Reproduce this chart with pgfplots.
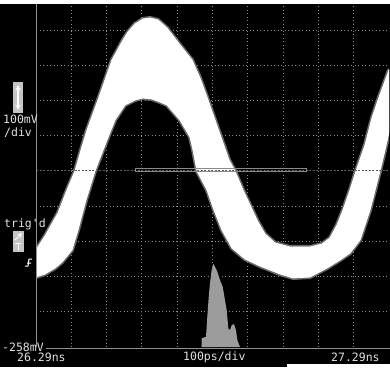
\documentclass[border=0pt]{standalone}
\usepackage{pgfplots}
\usepackage{pgfplotstable}
\pgfplotsset{compat=1.18}
\usepackage{fontspec}
\setmonofont{DejaVu Sans Mono}
\definecolor{gridgray}{HTML}{8A8A8A}
\definecolor{txt}{HTML}{E0E0E0}
\definecolor{histgray}{HTML}{9C9C9C}
\definecolor{boxgray}{HTML}{C4C4C4}
\definecolor{axgray}{HTML}{909090}
\definecolor{fringe}{HTML}{6A6A6A}
% signal band: upper boundary (left to right) then lower boundary (right to left); t in ps from 26.29 ns, v in mV
\pgfplotstableread{
t v
0 17.6
25.5 57.3
62.3 122.7
87.8 188
110.5 242
127.5 301.7
144.5 358.5
175.6 443.7
215.3 557.3
246.5 614.2
260.6 636.9
280.5 659.6
303.1 673.8
323 676.7
345.6 671
371.1 648.2
407.9 600
441.9 557.3
464.6 506.2
487.3 443.7
507.1 386.9
526.9 330.1
546.8 273.2
563.7 242
586.4 188
606.2 145.4
628.9 97.1
648.7 63
677.1 37.5
719.6 26.1
776.2 26.1
810.2 34.6
832.9 51.7
852.7 88.6
869.7 131.2
889.5 188
906.5 242
932 315.9
951.8 392.6
968.9 443.7
1000 528.9
1000 352.8
988.7 301.7
974.5 242
946.2 131.2
917.9 46
889.5 9
861.2 -10.8
824.4 -33.6
776.2 -59.1
728.1 -62
691.2 -50.6
634.6 -27.9
592.1 -8
555.2 23.3
526.9 74.4
504.3 131.2
484.4 188
456.1 242
444.8 301.7
436.3 338.6
407.9 386.9
371.1 429.5
351.3 438
328.6 446.5
303.1 449.4
280.5 443.7
252.1 429.5
223.8 386.9
201.1 330.1
181.3 278.9
167.1 242
141.6 159.6
119 74.4
102 17.6
73.7 -16.5
53.8 -33.6
25.5 -50.6
0 -59.1
}\band
\pgfplotstableread{
t n
469.4 -258
469.4 -233
481.6 -229
485.3 -172
490.1 -105
492.9 -77
497.7 -39
502.3 -22
507.1 -30
513.6 -44
521.3 -68
528.9 -87
535.4 -125
540.2 -153
544.8 -205
549.6 -210
554.4 -196
560.9 -193
566.6 -210
570.3 -238
577.9 -258
}\hist
\begin{document}
\begin{tikzpicture}[x=1pt,y=1pt]
\useasboundingbox (0,0) rectangle (390,367);
\fill[black] (0,0) rectangle (390,367);
\fill[white] (0,363) rectangle (390,367);
\fill[white] (287,0) rectangle (390,3);
\begin{axis}[at={(36pt,20pt)}, anchor=south west, scale only axis,
  width=353pt, height=343pt,
  xmin=0, xmax=1000, ymin=-258, ymax=716.4,
  axis line style={draw=none},
  xtick={100,200,...,900},
  ytick={-158,-58,42,142,342,442,542,642},
  xticklabels={}, yticklabels={},
  tick style={draw=none},
  grid=major,
  grid style={gridgray, line width=1pt, dash pattern=on 1pt off 2.5pt},
  clip=true]
\addplot[draw=fringe, line width=4pt, line join=round] table[x=t,y=v] {\band} -- cycle;
\addplot[fill=white, draw=white, line width=0.8pt, line join=round] table[x=t,y=v] {\band} -- cycle;
\addplot[fill=histgray, draw=none] table[x=t,y=n] {\hist} -- cycle;
\addplot[color=gridgray!70!black, line width=1pt, dash pattern=on 2pt off 1.5pt] coordinates {(0,242)(1000,242)};
\addplot[draw=gridgray, line width=1pt] coordinates {(280.5,239.2)(765,239.2)(765,250.5)(280.5,250.5)} -- cycle;
\end{axis}
\draw[axgray, line width=1pt] (36,20) -- (36,363);
\draw[axgray, line width=1pt] (46,19) -- (390,19);
\fill[boxgray] (13,254) rectangle (23,285);
\draw[white, line width=1.4pt, <->, >=stealth] (18,257) -- (18,282);
\fill[boxgray] (13,115) rectangle (24,136);
\draw[white, line width=1pt, ->, >=stealth] (15,127) -- (22,134);
\draw[white, line width=1pt] (15,124) -- (21,124) (18,124) -- (18,117);
\draw[white, line width=1pt] (25,101) -- (28,101) -- (29,108) -- (32,108) (27,104) -- (31,104);
\begin{scope}[font=\ttfamily\fontsize{11.5}{12}\selectfont, text=txt, inner sep=0pt]
\node[anchor=west] at (3,248) {100mV};
\node[anchor=west] at (4,234) {/div};
\node[anchor=west] at (4,143) {trig'd};
\node[anchor=west] at (2,20) {-258mV};
\node[anchor=west] at (17,10) {26.29ns};
\node[anchor=west] at (183,10) {100ps/div};
\node[anchor=west] at (331,10) {27.29ns};
\end{scope}
\end{tikzpicture}
\end{document}
